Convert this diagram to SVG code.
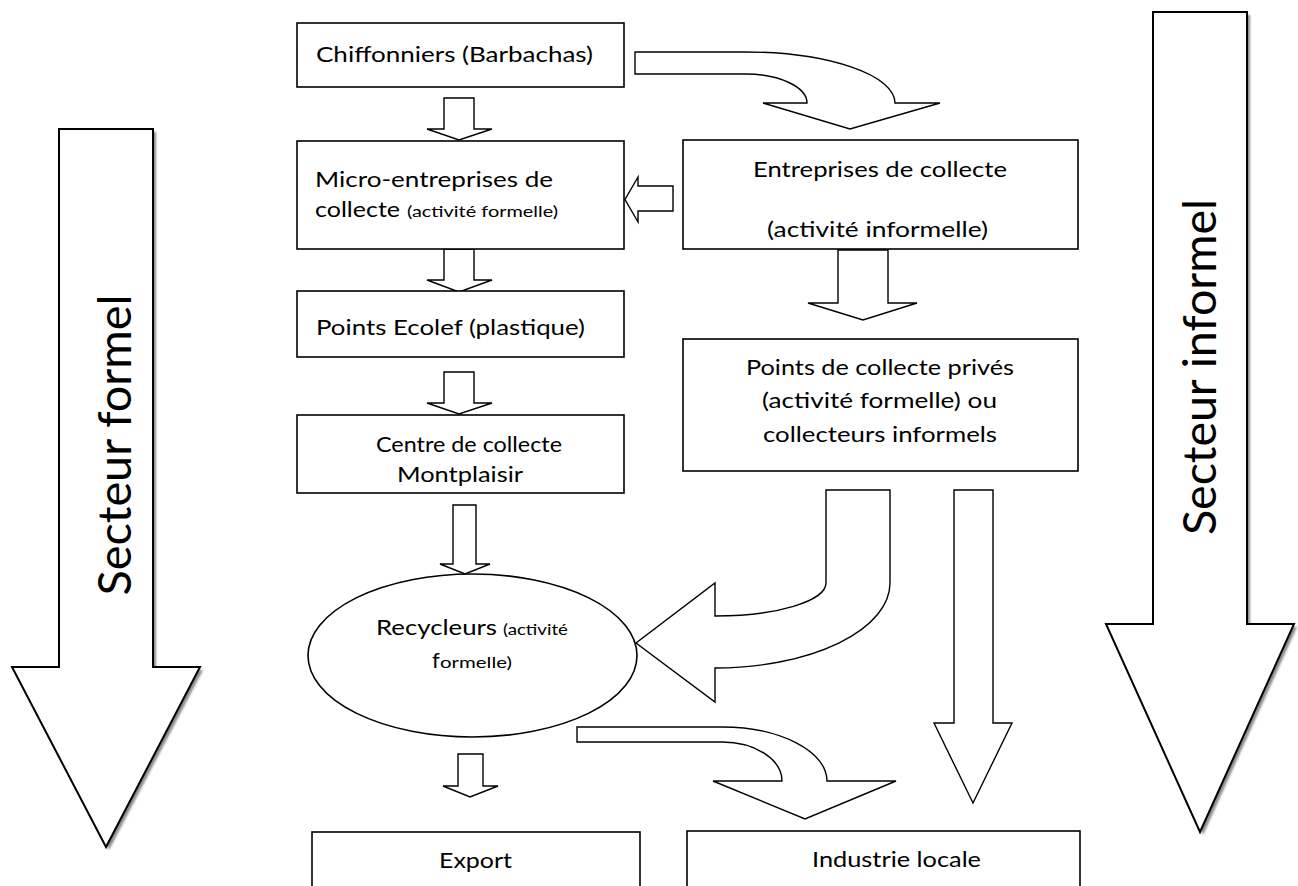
<svg xmlns="http://www.w3.org/2000/svg" width="1298" height="886" viewBox="0 0 1298 886">
<defs>
<style>
.box{fill:#fff;stroke:#000;stroke-width:1.6}
.arr{fill:#fff;stroke:#000;stroke-width:1.4;stroke-linejoin:miter}
.big{fill:#fff;stroke:#000;stroke-width:2}
.shadow{fill:#8a8a8a;stroke:none}
text{font-family:Lato,"Liberation Sans",sans-serif;fill:#000}
.t{font-size:22px}
.s{font-size:15px}
.sec{font-size:46px}
</style>
<filter id="blur" x="-20%" y="-20%" width="140%" height="140%"><feGaussianBlur stdDeviation="0.8"/></filter>
</defs>
<rect width="1298" height="886" fill="#fff"/>

<g id="secteur-formel">
<path class="shadow" filter="url(#blur)" transform="translate(3,3)" d="M59,129 H153 V667 H200 L106,847 L12,667 H59 Z"/>
<path class="big" d="M59,129 H153 V667 H200 L106,847 L12,667 H59 Z"/>
<text class="sec" transform="translate(131,445) rotate(-90)" text-anchor="middle" textLength="301" lengthAdjust="spacingAndGlyphs">Secteur formel</text>
</g>

<g id="secteur-informel">
<path class="shadow" filter="url(#blur)" transform="translate(3,3)" d="M1153,12 H1247 V624 H1294 L1200,832 L1106,624 H1153 Z"/>
<path class="big" d="M1153,12 H1247 V624 H1294 L1200,832 L1106,624 H1153 Z"/>
<text class="sec" transform="translate(1216,367) rotate(-90)" text-anchor="middle" textLength="336" lengthAdjust="spacingAndGlyphs">Secteur informel</text>
</g>

<g id="connectors">
<path class="arr" d="M444,98 H474 V129 H492 L459,140 L427,129 H444 Z"/>
<path class="arr" d="M444,249 H474 V280 H492 L459,292 L427,280 H444 Z"/>
<path class="arr" d="M444,372 H474 V403 H492 L459,414 L427,403 H444 Z"/>
<path class="arr" d="M453,505 H476 V564 H490 L465,574 L440,564 H453 Z"/>
<path class="arr" d="M458,754 H483 V786 H498 L470,797 L443,786 H458 Z"/>
<path class="arr" d="M673,186 V211 H638 V222 L625,199.5 L638,177 V186 Z"/>
<path class="arr" d="M838,250 H888 V303 H917 L863,320 L808,303 H838 Z"/>
<path class="arr" d="M635,52 H745 A150,51 0 0 1 895,103 H940 L850,129 L763,103 H807 A62,29 0 0 0 745,74 H635 Z"/>
<path class="arr" d="M826,490 H890 V583 A175,85 0 0 1 715,668 V702 L636,643 L715,583 V616 A111,33 0 0 0 826,583 Z"/>
<path class="arr" d="M954,490 H993 V723 H1012 L973,803 L934,723 H954 Z"/>
<path class="arr" d="M577,727 H722 A105,54 0 0 1 827,781 H896 L805,819 L713,781 H782 A60,39 0 0 0 722,742 H577 Z"/>
</g>

<g id="chiffonniers">
<rect class="box" x="297" y="23" width="327" height="64"/>
<text class="t" x="316" y="62" textLength="277" lengthAdjust="spacingAndGlyphs">Chiffonniers (Barbachas)</text>
</g>

<g id="micro-entreprises">
<rect class="box" x="297" y="141" width="327" height="108"/>
<text class="t" x="315" y="187" textLength="238" lengthAdjust="spacingAndGlyphs">Micro-entreprises de</text>
<text class="t" x="315" y="217" textLength="85" lengthAdjust="spacingAndGlyphs">collecte</text>
<text class="s" x="407" y="217" textLength="151" lengthAdjust="spacingAndGlyphs">(activité formelle)</text>
</g>

<g id="entreprises">
<rect class="box" x="683" y="140" width="395" height="109"/>
<text class="t" x="753" y="177" textLength="254" lengthAdjust="spacingAndGlyphs">Entreprises de collecte</text>
<text class="t" x="767" y="237" textLength="221" lengthAdjust="spacingAndGlyphs">(activité informelle)</text>
</g>

<g id="points-ecolef">
<rect class="box" x="297" y="291" width="327" height="66"/>
<text class="t" x="316" y="335" textLength="269" lengthAdjust="spacingAndGlyphs">Points Ecolef (plastique)</text>
</g>

<g id="points-collecte">
<rect class="box" x="683" y="339" width="395" height="132"/>
<text class="t" x="746" y="375" textLength="268" lengthAdjust="spacingAndGlyphs">Points de collecte privés</text>
<text class="t" x="762" y="408" textLength="235" lengthAdjust="spacingAndGlyphs">(activité formelle) ou</text>
<text class="t" x="763" y="442" textLength="234" lengthAdjust="spacingAndGlyphs">collecteurs informels</text>
</g>

<g id="centre">
<rect class="box" x="297" y="415" width="327" height="78"/>
<text class="t" x="376" y="452" textLength="186" lengthAdjust="spacingAndGlyphs">Centre de collecte</text>
<text class="t" x="397" y="482" textLength="126" lengthAdjust="spacingAndGlyphs">Montplaisir</text>
</g>

<g id="recycleurs">
<ellipse class="box" cx="472.5" cy="655.5" rx="164.5" ry="81.5"/>
<text class="t" x="376" y="635" textLength="121" lengthAdjust="spacingAndGlyphs">Recycleurs</text>
<text class="s" x="503" y="635" textLength="65" lengthAdjust="spacingAndGlyphs">(activité</text>
<text class="t" x="432" y="668">f</text>
<text class="s" x="440" y="668" textLength="72" lengthAdjust="spacingAndGlyphs">ormelle)</text>
</g>

<g id="export">
<rect class="box" x="312" y="832" width="328" height="60"/>
<text class="t" x="439" y="868" textLength="73" lengthAdjust="spacingAndGlyphs">Export</text>
</g>

<g id="industrie">
<rect class="box" x="687" y="831" width="393" height="60"/>
<text class="t" x="812" y="867" textLength="169" lengthAdjust="spacingAndGlyphs">Industrie locale</text>
</g>
</svg>
